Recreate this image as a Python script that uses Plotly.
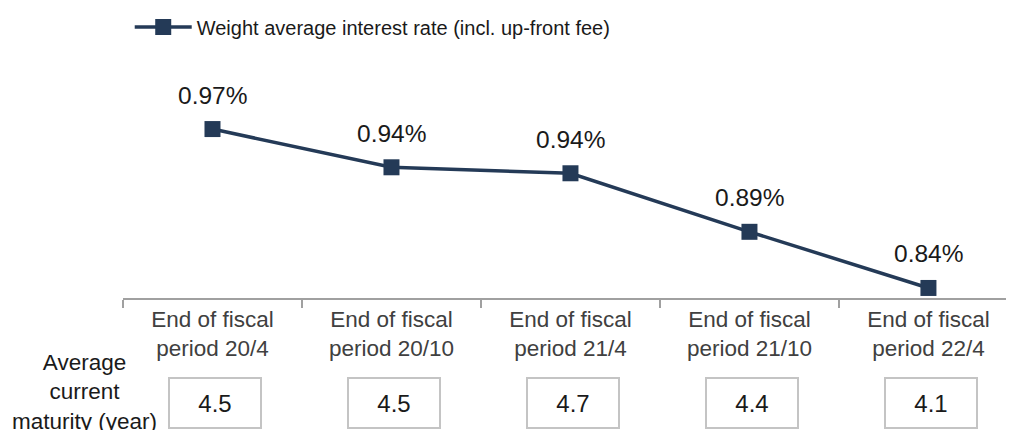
import plotly.graph_objects as go

categories = ["End of fiscal<br>period 20/4", "End of fiscal<br>period 20/10",
              "End of fiscal<br>period 21/4", "End of fiscal<br>period 21/10",
              "End of fiscal<br>period 22/4"]
rates = [0.974, 0.942, 0.937, 0.888, 0.841]
maturity = [4.5, 4.5, 4.7, 4.4, 4.1]
series_name = "Weight average interest rate (incl. up-front fee)"
row_label = "Average<br>current<br>maturity (year)"

NAVY = "#243A57"
FONT = "Liberation Sans, Arial, sans-serif"

# page body has an 8px default margin; the figure is sized to fill the rest of the window
W, H = 1006, 422

fig = go.Figure()
fig.add_trace(go.Scatter(
    x=categories, y=rates, mode="lines+markers", name=series_name,
    line=dict(color=NAVY, width=3.5),
    marker=dict(symbol="square", size=16, color=NAVY),
    showlegend=True,
))

annotations = []
for c, r in zip(categories, rates):
    annotations.append(dict(x=c, y=r, xref="x", yref="y", text=f"{r:.2f}%",
                            showarrow=False, yshift=34, yanchor="middle",
                            font=dict(size=24.5, color="#1a1a1a", family=FONT)))
for c, m in zip(categories, maturity):
    annotations.append(dict(x=c, y=-0.441, xref="x", yref="paper", text=f"{m:.1f}",
                            showarrow=False, yanchor="middle", xanchor="center", xshift=3,
                            width=88, height=46, borderpad=1, borderwidth=2,
                            bordercolor="#c4c4c4", bgcolor="white",
                            font=dict(size=24, color="#1a1a1a", family=FONT)))
annotations.append(dict(x=-0.043, y=-0.395, xref="paper", yref="paper", text=row_label,
                        showarrow=False, xanchor="center", yanchor="middle", align="center",
                        font=dict(size=22.5, color="#1a1a1a", family=FONT)))

fig.update_layout(
    width=W, height=H,
    margin=dict(l=115, r=0, t=52, b=132, autoexpand=False),
    plot_bgcolor="white", paper_bgcolor="white",
    font=dict(family=FONT),
    showlegend=True,
    legend=dict(orientation="h", xref="container", yref="container",
                x=0.121, y=1 - 19 / H, xanchor="left", yanchor="middle",
                font=dict(size=20, color="#1a1a1a", family=FONT), itemwidth=57,
                bgcolor="rgba(0,0,0,0)"),
    xaxis=dict(type="category", range=[-0.5, 4.478], showline=True, linecolor="#a0a0a0",
               linewidth=2, ticks="outside", tickson="boundaries", ticklen=8,
               tickcolor="#a0a0a0", tickwidth=2, showgrid=False, automargin=False,
               tickfont=dict(size=22.5, color="#404040", family=FONT)),
    yaxis=dict(range=[0.8326, 1.0318], visible=False, showgrid=False, automargin=False),
    annotations=annotations,
)

fig.write_html("out.html")
